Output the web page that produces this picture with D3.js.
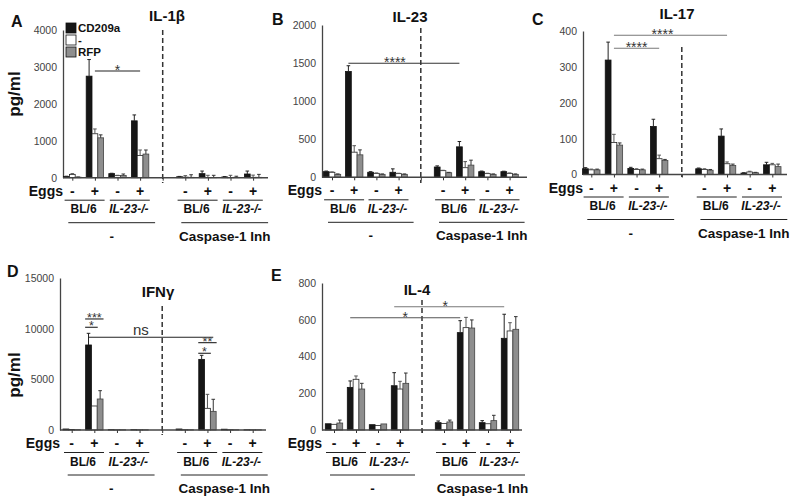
<!DOCTYPE html>
<html><head><meta charset="utf-8">
<script src="https://cdn.jsdelivr.net/npm/d3@7"></script>
<style>
body{margin:0;background:#fff}
svg{display:block}
text{font-family:Arial,"Liberation Sans",Helvetica,sans-serif}
</style>
</head><body>
<svg id="chart" width="800" height="502"></svg>
<script>
// ---------- shared categories ----------
const seriesNames = ["CD209a", "-", "RFP"];
const slotKeys = ["g0", "g1", "g2", "g3", "gap", "g4", "g5", "g6", "g7"];
const groupKeys = ["g0", "g1", "g2", "g3", "g4", "g5", "g6", "g7"];
const eggsLabels = ["-", "+", "-", "+", "-", "+", "-", "+"];
const strainLabels = ["BL/6", "IL-23-/-", "BL/6", "IL-23-/-"];
const treatmentLabels = ["-", "Caspase-1 Inh"];

// ---------- A: IL-1β ----------
const il1bTicks = [0, 1000, 2000, 3000, 4000];
const il1bCD209a = [30, 2750, 110, 1540, 25, 110, 20, 100];
const il1bCD209aErr = [10, 450, 10, 160, 10, 70, 10, 80];
const il1bCtrl = [90, 1190, 55, 600, 15, 5, 5, 10];
const il1bCtrlErr = [20, 130, 10, 150, 40, 60, 60, 60];
const il1bRFP = [15, 1080, 60, 640, 10, 5, 10, 10];
const il1bRFPErr = [5, 80, 40, 110, 70, 60, 30, 80];

// ---------- B: IL-23 ----------
const il23Ticks = [0, 500, 1000, 1500, 2000];
const il23CD209a = [74, 1390, 66, 66, 135, 400, 74, 74];
const il23CD209aErr = [8, 75, 8, 45, 15, 70, 8, 6];
const il23Ctrl = [66, 330, 52, 48, 87, 126, 48, 52];
const il23CtrlErr = [5, 85, 5, 5, 5, 80, 5, 5];
const il23RFP = [39, 295, 39, 39, 60, 160, 39, 39];
const il23RFPErr = [5, 65, 5, 5, 5, 65, 5, 5];

// ---------- C: IL-17 ----------
const il17Ticks = [0, 100, 200, 300, 400];
const il17CD209a = [16, 319, 17, 134, 16, 107, 4, 27];
const il17CD209aErr = [3, 50, 3, 20, 2, 20, 1, 7];
const il17Ctrl = [13, 89, 14, 44, 14, 30, 7, 27];
const il17CtrlErr = [2, 23, 2, 10, 2, 5, 2, 4];
const il17RFP = [13, 82, 13, 39, 12, 25, 5, 22];
const il17RFPErr = [2, 6, 2, 3, 2, 4, 1, 7];

// ---------- D: IFNγ ----------
const ifngTicks = [0, 5000, 10000, 15000];
const ifngCD209a = [100, 8390, 30, 30, 100, 6970, 80, 20];
const ifngCD209aErr = [0, 1150, 0, 0, 0, 400, 0, 0];
const ifngCtrl = [40, 2370, 20, 20, 30, 2140, 30, 20];
const ifngCtrlErr = [0, 0, 0, 0, 0, 1380, 0, 0];
const ifngRFP = [30, 3060, 20, 20, 20, 1840, 20, 20];
const ifngRFPErr = [0, 820, 0, 0, 0, 1190, 0, 0];

// ---------- E: IL-4 ----------
const il4Ticks = [0, 200, 400, 600, 800];
const il4CD209a = [34, 232, 29, 241, 40, 530, 40, 499];
const il4CD209aErr = [0, 35, 0, 71, 9, 65, 11, 131];
const il4Ctrl = [31, 276, 25, 223, 36, 557, 34, 539];
const il4CtrlErr = [0, 18, 0, 42, 0, 56, 0, 45];
const il4RFP = [38, 223, 33, 254, 44, 555, 51, 548];
const il4RFPErr = [16, 31, 0, 56, 10, 44, 29, 69];

// ---------- significance annotations (group index, series index, value level) ----------
const il1bSig = [{g1: 1, s1: 1, g2: 3, s2: 1, v: 2890, label: "*"}];
const il23Sig = [{g1: 1, s1: 0, g2: 5, s2: 0, v: 1497, label: "****", dx: -9}];
const il17Sig = [
  {g1: 1, s1: 1, g2: 5, s2: 1, v: 388, label: "****", dx: -8},
  {g1: 1, s1: 1, g2: 3, s2: 1, v: 352, label: "****"}
];
const ifngSig = [
  {g1: 1, s1: 0, g2: 1, s2: 2, v: 10957, label: "***", edge: true, small: true},
  {g1: 1, s1: 0, g2: 1, s2: 1, v: 10138, label: "*", edge: true, small: true},
  {g1: 1, s1: 0, g2: 5, s2: 2, v: 9151, label: "ns", dx: -10, big: true},
  {g1: 5, s1: 0, g2: 5, s2: 2, v: 8618, label: "**", edge: true, small: true},
  {g1: 5, s1: 0, g2: 5, s2: 1, v: 7572, label: "*", edge: true, small: true}
];
const il4Sig = [
  {g1: 3, s1: 0, g2: 7, s2: 0, v: 671, label: "*", dx: -4, color: "#777"},
  {g1: 1, s1: 0, g2: 5, s2: 0, v: 611, label: "*", color: "#555"}
];

// ---------- panel layout ----------
const panels = [
  {letter: "A", title: "IL-1β", ticks: il1bTicks,
   vals: [il1bCD209a, il1bCtrl, il1bRFP], errs: [il1bCD209aErr, il1bCtrlErr, il1bRFPErr], sig: il1bSig,
   ax: 63, axEnd: 268, base: 177.7, top: 30, s0: 72.3, s8: 253.1, dash: [30, 183],
   letterPos: [11, 27], titlePos: [167, 21], ylab: 94, legend: true, sigColor: "#222"},
  {letter: "B", title: "IL-23", ticks: il23Ticks,
   vals: [il23CD209a, il23Ctrl, il23RFP], errs: [il23CD209aErr, il23CtrlErr, il23RFPErr], sig: il23Sig,
   ax: 322, axEnd: 527, base: 177.3, top: 25, s0: 332, s8: 509.6, dash: [28, 183],
   letterPos: [272, 25], titlePos: [410, 22], sigColor: "#333"},
  {letter: "C", title: "IL-17", ticks: il17Ticks,
   vals: [il17CD209a, il17Ctrl, il17RFP], errs: [il17CD209aErr, il17CtrlErr, il17RFPErr], sig: il17Sig,
   ax: 583, axEnd: 787, base: 174.5, top: 31, s0: 591.3, s8: 772.3, dash: [47, 177],
   letterPos: [532, 25], titlePos: [677, 19], sigColor: "#777"},
  {letter: "D", title: "IFNγ", ticks: ifngTicks,
   vals: [ifngCD209a, ifngCtrl, ifngRFP], errs: [ifngCD209aErr, ifngCtrlErr, ifngRFPErr], sig: ifngSig,
   ax: 60, axEnd: 266, base: 430, top: 278, s0: 71.7, s8: 252.7, dash: [306, 435],
   letterPos: [7, 277], titlePos: [158, 297], ylab: 375, sigColor: "#222"},
  {letter: "E", title: "IL-4", ticks: il4Ticks,
   vals: [il4CD209a, il4Ctrl, il4RFP], errs: [il4CD209aErr, il4CtrlErr, il4RFPErr], sig: il4Sig,
   ax: 322, axEnd: 522, base: 430, top: 283, s0: 334, s8: 510, dash: [300, 433],
   letterPos: [271, 281], titlePos: [417, 295], sigColor: "#666"}
];

const fills = ["#161616", "#ffffff", "#8e8e8e"];
const strokes = ["#111", "#222", "#444"];
const errColors = ["#222", "#555", "#333"];
const svg = d3.select("#chart");

panels.forEach(p => {
  const g = svg.append("g");
  const y = d3.scaleLinear().domain([0, p.ticks[p.ticks.length - 1]]).range([p.base, p.top]);
  const xs = d3.scalePoint().domain(slotKeys).range([p.s0, p.s8]);
  const inner = d3.scaleBand().domain(seriesNames).range([-8.7, 8.7]).padding(0);
  const bw = inner.bandwidth();
  const barCx = (gi, si) => xs(groupKeys[gi]) + inner(seriesNames[si]) + bw / 2;

  // y axis
  const yAxis = d3.axisLeft(y).tickValues(p.ticks).tickSize(0).tickPadding(6).tickFormat(d3.format("d"));
  const ya = g.append("g").attr("transform", `translate(${p.ax},0)`).call(yAxis);
  ya.select(".domain").attr("stroke", "#444").attr("stroke-width", 1.3);
  ya.selectAll("text").attr("font-size", 10.5).attr("fill", "#444");

  // x ticks
  const xAxis = d3.axisBottom(xs).tickSize(3).tickFormat("");
  const xa = g.append("g").attr("transform", `translate(0,${p.base})`).call(xAxis);
  xa.select(".domain").remove();
  xa.selectAll("line").attr("stroke", "#333");

  // dashed divider
  g.append("line").attr("x1", xs("gap")).attr("x2", xs("gap"))
    .attr("y1", p.dash[0]).attr("y2", p.dash[1])
    .attr("stroke", "#333").attr("stroke-width", 1.5).attr("stroke-dasharray", "5,3");

  // bars
  seriesNames.forEach((sn, si) => {
    g.selectAll(null).data(p.vals[si]).join("rect")
      .attr("x", (d, i) => xs(groupKeys[i]) + inner(sn))
      .attr("y", d => y(d))
      .attr("width", bw)
      .attr("height", d => p.base - y(d))
      .attr("fill", fills[si]).attr("stroke", strokes[si]).attr("stroke-width", 0.8);
    // error bars
    p.errs[si].forEach((e, i) => {
      if (!e) return;
      const cx = barCx(i, si);
      const v = p.vals[si][i];
      g.append("line").attr("x1", cx).attr("x2", cx).attr("y1", y(v)).attr("y2", y(v + e))
        .attr("stroke", errColors[si]).attr("stroke-width", 1);
      g.append("line").attr("x1", cx - 1.8).attr("x2", cx + 1.8).attr("y1", y(v + e)).attr("y2", y(v + e))
        .attr("stroke", errColors[si]).attr("stroke-width", 1);
    });
  });

  // baseline
  g.append("line").attr("x1", p.ax).attr("x2", p.axEnd).attr("y1", p.base).attr("y2", p.base)
    .attr("stroke", "#444").attr("stroke-width", 1.5);

  // significance
  p.sig.forEach(s => {
    let xA = barCx(s.g1, s.s1), xB = barCx(s.g2, s.s2);
    if (s.edge) { xA -= bw / 2 + 0.5; xB += bw / 2 + 0.5; }
    const ly = y(s.v);
    const col = s.color || p.sigColor;
    g.append("line").attr("x1", xA).attr("x2", xB).attr("y1", ly).attr("y2", ly)
      .attr("stroke", col).attr("stroke-width", 1.1);
    const fs = s.big ? 15 : (s.small ? 12.5 : 14);
    g.append("text").attr("x", (xA + xB) / 2 + (s.dx || 0))
      .attr("y", s.big ? ly - 2 : ly + (s.small ? 3 : 4))
      .attr("text-anchor", "middle")
      .attr("font-size", fs).attr("fill", "#333")
      .text(s.label);
  });

  // letter + title
  g.append("text").attr("x", p.letterPos[0]).attr("y", p.letterPos[1])
    .attr("font-size", 16).attr("font-weight", "bold").attr("fill", "#111").text(p.letter);
  g.append("text").attr("x", p.titlePos[0]).attr("y", p.titlePos[1]).attr("text-anchor", "middle")
    .attr("font-size", 15).attr("font-weight", "bold").attr("fill", "#111").text(p.title);

  // y label
  if (p.ylab) {
    g.append("text").attr("transform", `translate(20,${p.ylab}) rotate(-90)`)
      .attr("text-anchor", "middle").attr("font-size", 17).attr("font-weight", "bold")
      .attr("fill", "#111").text("pg/ml");
  }

  // legend
  if (p.legend) {
    seriesNames.forEach((sn, si) => {
      const ly = 23 + si * 12;
      g.append("rect").attr("x", 66).attr("y", ly).attr("width", 10).attr("height", 10)
        .attr("fill", fills[si]).attr("stroke", "#111").attr("stroke-width", 0.8);
      g.append("text").attr("x", 78).attr("y", ly + 9).attr("font-size", 11.5)
        .attr("font-weight", "bold").attr("fill", "#111").text(sn);
    });
  }

  // category labels under axis
  const b = p.base;
  g.append("text").attr("x", p.ax).attr("y", b + 18).attr("text-anchor", "end")
    .attr("font-size", 14).attr("font-weight", "bold").attr("fill", "#111").text("Eggs");
  eggsLabels.forEach((lab, i) => {
    g.append("text").attr("x", xs(groupKeys[i])).attr("y", b + 18).attr("text-anchor", "middle")
      .attr("font-size", 14).attr("font-weight", "bold").attr("fill", "#111").text(lab);
  });
  strainLabels.forEach((lab, k) => {
    const xl = xs(groupKeys[2 * k]), xr = xs(groupKeys[2 * k + 1]);
    const mid = (xl + xr) / 2;
    g.append("line").attr("x1", mid - 19).attr("x2", mid + 21).attr("y1", b + 22.5).attr("y2", b + 22.5)
      .attr("stroke", "#222").attr("stroke-width", 1);
    g.append("text").attr("x", mid).attr("y", b + 35.5).attr("text-anchor", "middle")
      .attr("font-size", 12).attr("font-weight", "bold").attr("fill", "#111")
      .attr("font-style", k % 2 ? "italic" : "normal").text(lab);
  });
  treatmentLabels.forEach((lab, k) => {
    const xl = xs(groupKeys[4 * k]), xr = xs(groupKeys[4 * k + 3]);
    const l1 = xl - 4, l2 = xr + 15;
    g.append("line").attr("x1", l1).attr("x2", l2).attr("y1", b + 45).attr("y2", b + 45)
      .attr("stroke", "#222").attr("stroke-width", 1);
    g.append("text").attr("x", (l1 + l2) / 2).attr("y", b + 63).attr("text-anchor", "middle")
      .attr("font-size", 13.5).attr("font-weight", "bold").attr("fill", "#111").text(lab);
  });
});
</script>
</body></html>
